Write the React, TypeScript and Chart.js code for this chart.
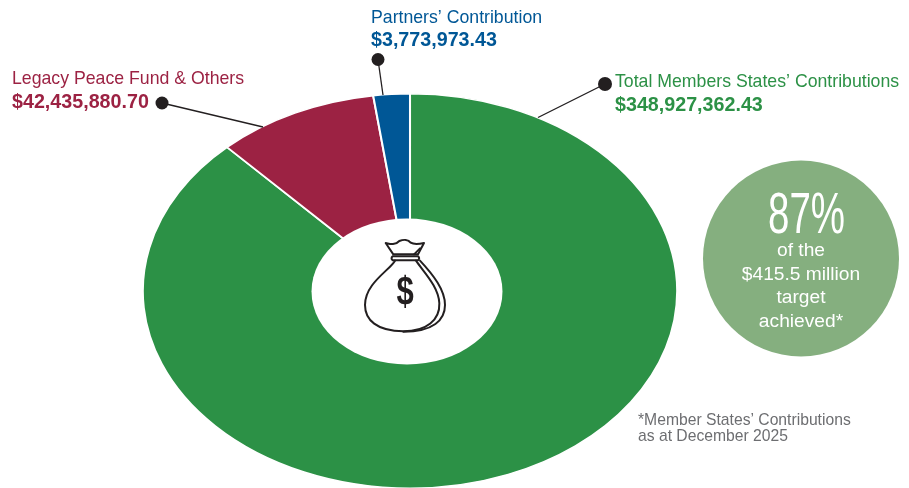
import React, { useEffect, useRef } from "react";
import { Chart, registerables } from "chart.js";

Chart.register(...registerables);

// Slice shares as drawn in the picture (the artwork's slices are not proportional to the dollar labels).
const categories = ["Total Members States’ Contributions", "Legacy Peace Fund & Others", "Partners’ Contribution"];
const amounts = ["$348,927,362.43", "$42,435,880.70", "$3,773,973.43"];
const drawnShares = [88.0, 9.8, 2.2];
const colors = ["#2C9146", "#9C2243", "#005796"];
const circleLines = ["of the", "$415.5 million", "target", "achieved*"];
const circleHeadline = "87%";
const footnote = ["*Member States’ Contributions", "as at December 2025"];

const SANS = '"Liberation Sans", Arial, sans-serif';
const INK = "#231F20";

const overlay = {
  id: "overlay",
  beforeDatasetsDraw(chart: any) {
    const { ctx } = chart;
    const meta = chart.getDatasetMeta(0).data[0];
    ctx.save();
    ctx.translate(meta.x, meta.y);
    ctx.scale(267.2 / meta.outerRadius, 197.2 / meta.outerRadius);
    ctx.translate(-meta.x, -meta.y);
  },
  afterDatasetsDraw(chart: any) {
    const { ctx } = chart;
    ctx.restore();

    // white centre of the ring
    ctx.save();
    ctx.fillStyle = "#ffffff";
    ctx.beginPath();
    ctx.ellipse(407, 291.5, 95.5, 73, 0, 0, Math.PI * 2);
    ctx.fill();

    // leaders
    const leaders = [
      [605, 84, 538, 117.5, 7],
      [162, 103, 263, 127, 6.5],
      [378, 59.5, 383, 95, 6.5],
    ];
    ctx.strokeStyle = INK;
    ctx.fillStyle = INK;
    ctx.lineWidth = 1.3;
    leaders.forEach(([x1, y1, x2, y2, r]) => {
      ctx.beginPath();
      ctx.moveTo(x1, y1);
      ctx.lineTo(x2, y2);
      ctx.stroke();
      ctx.beginPath();
      ctx.arc(x1, y1, r, 0, Math.PI * 2);
      ctx.fill();
    });

    // labels
    const labelPos = [
      [615, 87, 111],
      [12, 84, 108],
      [371, 23, 46],
    ];
    ctx.textAlign = "left";
    ctx.textBaseline = "alphabetic";
    categories.forEach((c, i) => {
      const [x, y1, y2] = labelPos[i];
      ctx.fillStyle = colors[i];
      ctx.font = `17.7px ${SANS}`;
      ctx.fillText(c, x, y1);
      ctx.font = `bold 19.7px ${SANS}`;
      ctx.fillText(amounts[i], x, y2);
    });

    // target circle
    ctx.fillStyle = "#85AF7F";
    ctx.beginPath();
    ctx.arc(801, 258.5, 98, 0, Math.PI * 2);
    ctx.fill();
    ctx.fillStyle = "#ffffff";
    ctx.strokeStyle = "#ffffff";
    ctx.textAlign = "center";
    ctx.save();
    ctx.translate(806.5, 232.7);
    ctx.scale(0.675, 1);
    ctx.font = `57px ${SANS}`;
    ctx.fillText(circleHeadline, 0, 0);
    ctx.restore();
    ctx.font = `19.2px ${SANS}`;
    const circleY = [256, 280, 303, 327];
    circleLines.forEach((t, i) => ctx.fillText(t, 801, circleY[i]));

    // footnote
    ctx.textAlign = "left";
    ctx.fillStyle = "#6D6E71";
    ctx.font = `15.7px ${SANS}`;
    ctx.fillText(footnote[0], 638, 425);
    ctx.fillText(footnote[1], 638, 441);

    // money bag
    ctx.translate(340, 220);
    ctx.scale(1 / 3, 1 / 3);
    ctx.strokeStyle = INK;
    ctx.lineWidth = 6;
    ctx.lineJoin = "round";
    ctx.lineCap = "round";
    [
      "M137,69 C150,72 165,77 178,63 C190,58 205,58 212,68 C222,74 238,72 252,69 L234,103 L160,103 Z",
      "M240,85 L222,103",
      "M158,109 L234,109 Q241,115 234,121 L158,121 Q151,115 158,109 Z",
      "M165,122 C150,150 75,190 75,255 C75,300 110,333 190,334 C260,334 300,300 298,250 C296,200 250,155 228,122",
      "M240,122 C280,165 315,210 315,255 C315,300 280,335 190,335",
    ].forEach((d) => ctx.stroke(new Path2D(d)));
    ctx.fillStyle = INK;
    ctx.textAlign = "center";
    ctx.translate(195, 254);
    ctx.scale(0.75, 1);
    ctx.font = `bold 124px ${SANS}`;
    ctx.fillText("$", 0, 0);
    ctx.restore();
  },
};

export default function App() {
  const ref = useRef<HTMLCanvasElement>(null);
  useEffect(() => {
    document.body.style.margin = "0";
    const chart = new Chart(ref.current!, {
      type: "doughnut",
      data: {
        labels: categories,
        datasets: [
          {
            data: drawnShares,
            backgroundColor: colors,
            borderColor: "#ffffff",
            borderWidth: 1.5,
          },
        ],
      },
      options: {
        responsive: false,
        animation: false,
        cutout: "30%",
        layout: { padding: { left: 213, right: 302, top: 94, bottom: 0 } },
        plugins: { legend: { display: false }, tooltip: { enabled: false } },
      },
      plugins: [overlay],
    } as any);
    return () => chart.destroy();
  }, []);
  return <canvas ref={ref} width={909} height={488} style={{ display: "block" }} />;
}
